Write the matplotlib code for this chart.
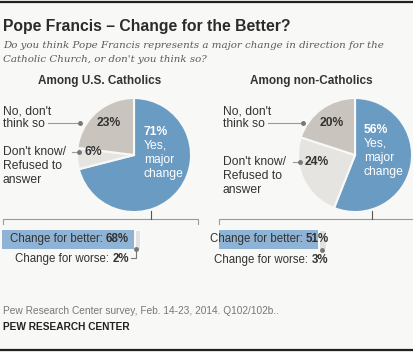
import matplotlib
matplotlib.use("Agg")
import matplotlib.pyplot as plt

# ---- data ----
groups = ["Among U.S. Catholics", "Among non-Catholics"]
pie_labels = ["Yes, major change", "Don't know/ Refused to answer", "No, don't think so"]
pie_catholics = [71, 6, 23]
pie_noncatholics = [56, 24, 20]
better = [68, 51]
worse = [2, 3]

BG = "#f8f8f6"
BLUE = "#6a9bc3"
LIGHT = "#e6e4e1"
TAUPE = "#c9c4be"
BARBLUE = "#8fb3d4"
TXT = "#333333"
LINE = "#9a9a9a"
FONT = "Liberation Sans"

W, H = 414, 352
fig = plt.figure(figsize=(W / 100, H / 100), dpi=100, facecolor=BG)
ax = fig.add_axes([0, 0, 1, 1])
ax.set_facecolor(BG)


def Y(y):
    return H - y


def txt(x, y, s, **kw):
    kw.setdefault("fontfamily", FONT)
    kw.setdefault("color", TXT)
    kw.setdefault("va", "center")
    return ax.text(x, Y(y), s, **kw)


centers = [(134, 155), (355, 155)]
R = 57
pies = [pie_catholics, pie_noncatholics]
for i, (vals, (cx, cy)) in enumerate(zip(pies, centers)):
    ax.pie(vals, colors=[BLUE, LIGHT, TAUPE], startangle=90, counterclock=False,
           center=(cx, Y(cy)), radius=R, explode=[0.05, 0, 0],
           wedgeprops=dict(edgecolor=BG, linewidth=1.5), frame=True)
ax.set_xlim(0, W)
ax.set_ylim(0, H)
ax.set_aspect("equal")
ax.axis("off")

# top/bottom rules
ax.plot([0, W], [Y(1.5), Y(1.5)], color="#222222", lw=1.6)
ax.plot([0, W], [Y(350), Y(350)], color="#222222", lw=1.6)

txt(3, 26, "Pope Francis \u2013 Change for the Better?", fontsize=11.3, fontweight="bold",
    color="#2b2b2b")
txt(3, 45, "Do you think Pope Francis represents a major change in direction for the",
    fontsize=7.4, fontstyle="italic", fontfamily="DejaVu Serif", color="#5a5a5a")
txt(3, 60, "Catholic Church, or don't you think so?",
    fontsize=7.4, fontstyle="italic", fontfamily="DejaVu Serif", color="#5a5a5a")

# group titles
txt(100, 81, groups[0], fontsize=8.5, fontweight="bold", ha="center")
txt(311, 81, groups[1], fontsize=8.5, fontweight="bold", ha="center")

fs = 8.7
# left pie labels
txt(3, 112, "No, don't", fontsize=fs)
txt(3, 124, "think so", fontsize=fs)
ax.plot([48, 80], [Y(123), Y(123)], color=LINE, lw=0.8)
ax.plot([80], [Y(123)], "o", color="#777777", ms=2.5)
txt(97, 123, f"{pie_catholics[2]}%", fontsize=fs, fontweight="bold")
txt(3, 152, "Don't know/", fontsize=fs)
txt(3, 166, "Refused to", fontsize=fs)
txt(3, 180, "answer", fontsize=fs)
ax.plot([72, 79], [Y(152), Y(152)], color=LINE, lw=0.8)
ax.plot([79], [Y(152)], "o", color="#777777", ms=2.5)
txt(85, 152, f"{pie_catholics[1]}%", fontsize=fs, fontweight="bold")
txt(144, 132, f"{pie_catholics[0]}%", fontsize=fs, fontweight="bold", color="white")
txt(144, 146, "Yes,", fontsize=fs, color="white")
txt(144, 160, "major", fontsize=fs, color="white")
txt(144, 174, "change", fontsize=fs, color="white")

# right pie labels
txt(223, 112, "No, don't", fontsize=fs)
txt(223, 124, "think so", fontsize=fs)
ax.plot([268, 303], [Y(123), Y(123)], color=LINE, lw=0.8)
ax.plot([303], [Y(123)], "o", color="#777777", ms=2.5)
txt(320, 123, f"{pie_noncatholics[2]}%", fontsize=fs, fontweight="bold")
txt(223, 162, "Don't know/", fontsize=fs)
txt(223, 176, "Refused to", fontsize=fs)
txt(223, 190, "answer", fontsize=fs)
ax.plot([293, 300], [Y(162), Y(162)], color=LINE, lw=0.8)
ax.plot([300], [Y(162)], "o", color="#777777", ms=2.5)
txt(305, 162, f"{pie_noncatholics[1]}%", fontsize=fs, fontweight="bold")
txt(364, 130, f"{pie_noncatholics[0]}%", fontsize=fs, fontweight="bold", color="white")
txt(364, 144, "Yes,", fontsize=fs, color="white")
txt(364, 158, "major", fontsize=fs, color="white")
txt(364, 172, "change", fontsize=fs, color="white")

# brackets
ax.plot([3, 3, 198, 198], [Y(224), Y(219), Y(219), Y(224)], color=LINE, lw=0.8)
ax.plot([151, 151], [Y(219), Y(211)], color="#555555", lw=0.8)
ax.plot([219, 219, W], [Y(224), Y(219), Y(219)], color=LINE, lw=0.8)
ax.plot([372, 372], [Y(219), Y(211)], color="#555555", lw=0.8)

# bars
scale = 1.94
x0s = [2, 219]
bar_y, bar_h = 239.5, 19
fig.canvas.draw()
renderer = fig.canvas.get_renderer()


def mixed(xr, y, normal, bold, size):
    tb = txt(xr, y, bold, fontsize=size, fontweight="bold", ha="right")
    bb = tb.get_window_extent(renderer)
    txt(xr - bb.width, y, normal, fontsize=size, ha="right")


for i in range(2):
    x0 = x0s[i]
    ax.barh(Y(bar_y), better[i] * scale, left=x0, height=bar_h, color=BARBLUE, linewidth=0)
    wl = x0 + better[i] * scale
    ax.barh(Y(bar_y), worse[i] * scale + 1.5, left=wl + 1, height=bar_h, color="#e2e2e2",
            edgecolor="white", linewidth=0.6)

mixed(129, 239, "Change for better: ", f"{better[0]}%", 8.3)
mixed(329, 239, "Change for better: ", f"{better[1]}%", 8.3)
# worse leaders
wx = x0s[0] + better[0] * scale + 2
ax.plot([wx], [Y(249)], "o", color="#777777", ms=2.5)
ax.plot([wx, wx, 131], [Y(249), Y(258), Y(258)], color="#777777", lw=0.8)
mixed(129, 259, "Change for worse: ", f"{worse[0]}%", 8.3)
wx2 = x0s[1] + better[1] * scale + 4
ax.plot([wx2], [Y(250)], "o", color="#777777", ms=2.5)
mixed(328, 260, "Change for worse: ", f"{worse[1]}%", 8.3)

# footer
txt(3, 311, "Pew Research Center survey, Feb. 14-23, 2014. Q102/102b..", fontsize=7.3,
    color="#777777")
txt(3, 327, "PEW RESEARCH CENTER", fontsize=7.3, fontweight="bold", color="#222222")

fig.savefig("out.png", dpi=100, facecolor=BG)
